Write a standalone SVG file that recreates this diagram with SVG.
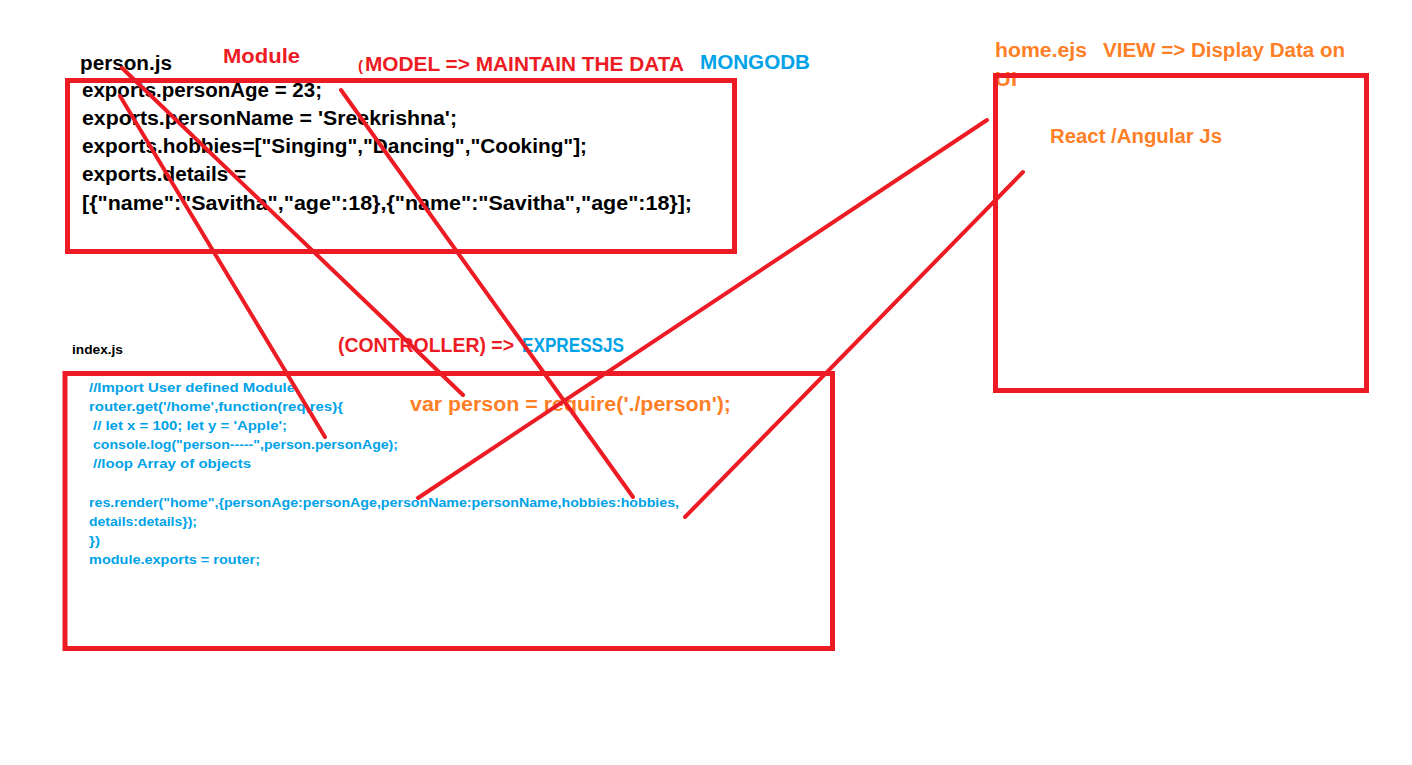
<svg xmlns="http://www.w3.org/2000/svg" width="1412" height="765" viewBox="0 0 1412 765">
<style>
.box{fill:none;stroke:#ED1C24;stroke-width:5}
.t{font-family:"Liberation Sans",Arial,sans-serif;font-weight:bold}
.big{font-size:20px}
.code{font-size:13.5px;fill:#00A2E8}
.blk{fill:#000}
.red{fill:#ED1C24}
.blue{fill:#00A2E8}
.org{fill:#FF7F27}
.ln{stroke:#ED1C24;stroke-width:4;stroke-linecap:round;fill:none}
</style>
<rect width="1412" height="765" fill="#fff"/>
<g id="person-js">
<text class="t big blk" x="80" y="70" textLength="92" lengthAdjust="spacingAndGlyphs">person.js</text>
<text class="t big blk" x="82" y="97" textLength="240" lengthAdjust="spacingAndGlyphs">exports.personAge = 23;</text>
<text class="t big blk" x="82" y="125" textLength="375" lengthAdjust="spacingAndGlyphs">exports.personName = 'Sreekrishna';</text>
<text class="t big blk" x="82" y="153" textLength="505" lengthAdjust="spacingAndGlyphs">exports.hobbies=["Singing","Dancing","Cooking"];</text>
<text class="t big blk" x="82" y="181" textLength="164" lengthAdjust="spacingAndGlyphs">exports.details =</text>
<text class="t big blk" x="82" y="210" textLength="610" lengthAdjust="spacingAndGlyphs">[{"name":"Savitha","age":18},{"name":"Savitha","age":18}];</text>
<rect class="box" x="67.5" y="80.5" width="667" height="171"/>
</g>
<g id="model-labels">
<text class="t big red" x="223" y="63" textLength="77" lengthAdjust="spacingAndGlyphs">Module</text>
<text class="t red" x="358" y="71" font-size="15" font-weight="normal">(</text>
<text class="t big red" x="365" y="71" textLength="319" lengthAdjust="spacingAndGlyphs">MODEL =&gt; MAINTAIN THE DATA</text>
<text class="t big blue" x="700" y="69" textLength="110" lengthAdjust="spacingAndGlyphs">MONGODB</text>
</g>
<g id="index-js">
<text class="t blk" x="72" y="354" font-size="13" textLength="51" lengthAdjust="spacingAndGlyphs">index.js</text>
<text class="t code" x="89" y="392" textLength="206" lengthAdjust="spacingAndGlyphs">//Import User defined Module</text>
<text class="t code" x="89" y="411" textLength="254" lengthAdjust="spacingAndGlyphs">router.get('/home',function(req,res){</text>
<text class="t code" x="93" y="430" textLength="194" lengthAdjust="spacingAndGlyphs">// let x = 100; let y = 'Apple';</text>
<text class="t code" x="93" y="449" textLength="305" lengthAdjust="spacingAndGlyphs">console.log("person-----",person.personAge);</text>
<text class="t code" x="93" y="468" textLength="158" lengthAdjust="spacingAndGlyphs">//loop Array of objects</text>
<text class="t code" x="89" y="507" textLength="590" lengthAdjust="spacingAndGlyphs">res.render("home",{personAge:personAge,personName:personName,hobbies:hobbies,</text>
<text class="t code" x="89" y="526" textLength="108" lengthAdjust="spacingAndGlyphs">details:details});</text>
<text class="t code" x="89" y="545" textLength="11" lengthAdjust="spacingAndGlyphs">})</text>
<text class="t code" x="89" y="564" textLength="171" lengthAdjust="spacingAndGlyphs">module.exports = router;</text>
<text class="t big org" x="410" y="411" textLength="321" lengthAdjust="spacingAndGlyphs">var person = require('./person');</text>
<rect class="box" x="65" y="373.5" width="767.5" height="275"/>
</g>
<g id="controller-label">
<text class="t big red" x="338" y="352" textLength="176" lengthAdjust="spacingAndGlyphs">(CONTROLLER) =&gt;</text>
<text class="t big blue" x="522" y="352" textLength="102" lengthAdjust="spacingAndGlyphs">EXPRESSJS</text>
</g>
<g id="home-ejs">
<text class="t big org" x="995" y="57" textLength="92" lengthAdjust="spacingAndGlyphs">home.ejs</text>
<text class="t big org" x="1103" y="57" textLength="242" lengthAdjust="spacingAndGlyphs">VIEW =&gt; Display Data on</text>
<text class="t big org" x="995" y="86" textLength="22" lengthAdjust="spacingAndGlyphs">UI</text>
<text class="t big org" x="1050" y="143" textLength="172" lengthAdjust="spacingAndGlyphs">React /Angular Js</text>
<rect class="box" x="995.5" y="75.5" width="371" height="315"/>
</g>
<g id="connectors">
<line class="ln" x1="122" y1="68" x2="463" y2="395"/>
<line class="ln" x1="120" y1="96" x2="325" y2="437"/>
<line class="ln" x1="341" y1="90" x2="633" y2="497"/>
<line class="ln" x1="987" y1="120" x2="418" y2="498"/>
<line class="ln" x1="1023" y1="172" x2="685" y2="517"/>
</g>
</svg>
